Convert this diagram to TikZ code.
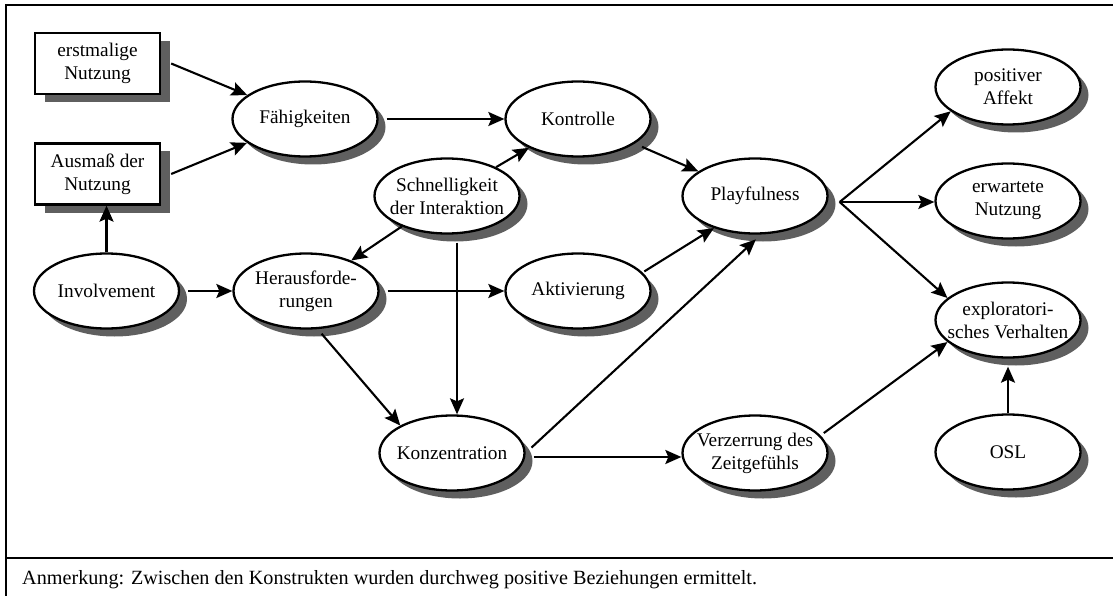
\documentclass[tikz,border=0pt]{standalone}
\usepackage{fontspec}
\setmainfont{Liberation Serif}
\usetikzlibrary{shapes.geometric,shadows,arrows.meta}
\definecolor{shgray}{RGB}{95,95,95}
\begin{document}
\begin{tikzpicture}[x=1pt,y=-1pt,
  every node/.style={font=\fontsize{19.3}{23}\selectfont},
  ell/.style={ellipse,draw,line width=2.3pt,fill=white,minimum width=145pt,minimum height=75pt,
    inner xsep=-18pt,inner ysep=0pt,align=center,
    drop shadow={shadow xshift=8pt,shadow yshift=-8pt,fill=shgray,opacity=1}},
  box/.style={rectangle,draw,line width=2.3pt,fill=white,minimum width=125pt,minimum height=61pt,
    inner sep=0pt,align=center,
    drop shadow={shadow xshift=10pt,shadow yshift=-8pt,fill=shgray,opacity=1}},
  arr/.style={-{Stealth[length=16pt,width=14pt,inset=3pt]},line width=2.1pt,shorten <=8pt},
  frame/.style={line width=2.4pt}
]
\useasboundingbox (0,0) rectangle (1113,596);

% frame and separator of the note
\draw[frame] (5,5) -- (1113,5);
\draw[frame] (6,5) -- (6,596);
\draw[frame] (5,558) -- (1113,558);

% manifest variables
\node[box] (en) at (97.5,63.5) {erstmalige\\Nutzung};
\node[box] (an) at (97.5,174) {Ausmaß der\\Nutzung};

% constructs
\node[ell] (inv) at (106.5,291) {Involvement};
\node[ell] (fk)  at (305,119)   {Fähigkeiten};
\node[ell] (hf)  at (306,291)   {Herausforde-\\rungen};
\node[ell] (sc)  at (447,196)   {Schnelligkeit\\der Interaktion};
\node[ell] (ko)  at (578,119)   {Kontrolle};
\node[ell] (ak)  at (578,291)   {Aktivierung};
\node[ell] (kz)  at (452,453)   {Konzentration};
\node[ell] (pf)  at (755,196)   {Playfulness};
\node[ell] (vz)  at (755,453)   {Verzerrung des\\Zeitgefühls};
\node[ell] (pa)  at (1008,87)   {positiver\\Affekt};
\node[ell] (ew)  at (1008,201)  {erwartete\\Nutzung};
\node[ell] (ex)  at (1008,320)  {exploratori-\\sches Verhalten};
\node[ell] (osl) at (1008,452)  {OSL};

% paths
\draw[arr,shorten <=0pt] ([xshift=10pt]en.east) -- (fk);
\draw[arr,shorten <=0pt] ([xshift=10pt]an.east) -- (fk);
\draw[arr,shorten <=0pt] (inv.north) -- (inv.north |- an.south);
\draw[arr] (inv) -- (hf);
\draw[arr] (fk) -- (ko);
\draw[arr,shorten <=0pt] (sc) -- (ko);
\draw[arr,shorten <=0pt] (sc) -- (hf);
\coordinate (kzt) at ([xshift=5pt]kz.north);
\draw[arr] (sc.south -| kzt) -- (kzt);
\draw[arr] (hf) -- (ak);
\draw[arr,shorten <=6pt] (hf.287) -- (kz.152);
\draw[arr] (ko) -- (pf);
\draw[arr,shorten <=2pt] (ak.16) -- (pf.218);
\draw[arr,shorten >=7pt] (kz.east) -- ([xshift=6pt]pf.south);
\draw[arr] ([yshift=-4pt]kz.east) -- ([yshift=-4pt]vz.west);
\coordinate (pfo) at ([xshift=11pt,yshift=-6pt]pf.east);
\draw[arr,shorten <=0pt] (pfo) -- (pa.203);
\draw[arr,shorten <=0pt] (pfo) -- (pfo -| ew.west);
\draw[arr,shorten <=0pt] (pfo) -- (ex.160);
\draw[arr,shorten <=4pt] (vz.15) -- (ex.200);
\draw[arr,shorten <=0pt,shorten >=8pt] (osl) -- (ex);

% note
\node[anchor=base west,inner sep=0pt,font=\fontsize{20.2}{24}\selectfont] (note) at (22,584)
  {Anmerkung: Zwischen den Konstrukten wurden durchweg positive Beziehungen ermittelt.};
\end{tikzpicture}
\end{document}
